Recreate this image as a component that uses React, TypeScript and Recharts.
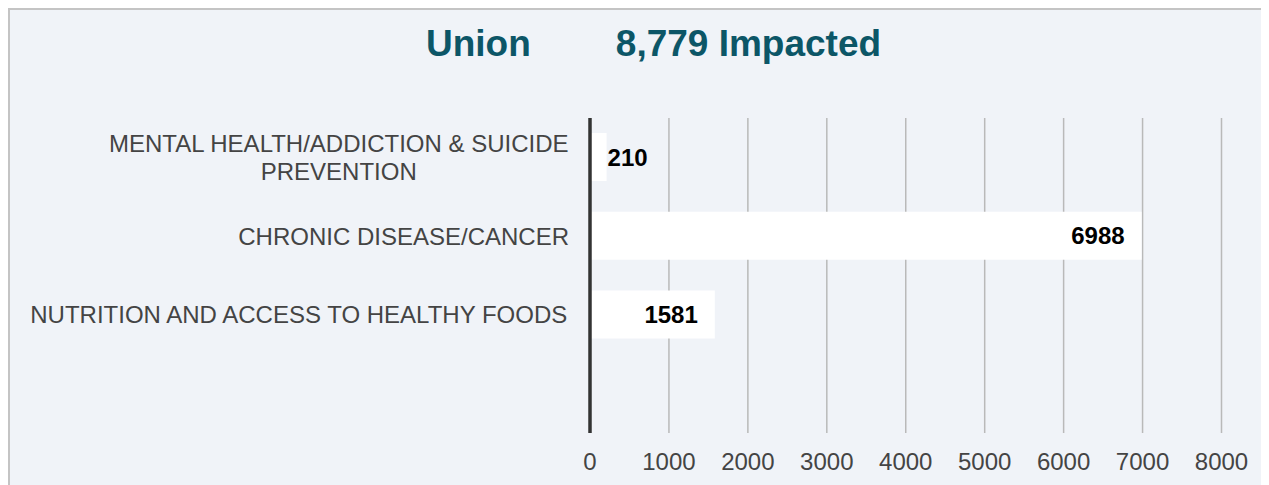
import { Bar, BarChart, CartesianGrid, LabelList, XAxis, YAxis } from 'recharts';

const categories = [
  'MENTAL HEALTH/ADDICTION & SUICIDE PREVENTION',
  'CHRONIC DISEASE/CANCER',
  'NUTRITION AND ACCESS TO HEALTHY FOODS',
  '',
];
const impacted = [210, 6988, 1581, null];
const xTicks = [0, 1000, 2000, 3000, 4000, 5000, 6000, 7000, 8000];
const countyName = 'Union';

const FONT = '"Liberation Sans", Arial, sans-serif';
const TEXT = '#444444';
const TEAL = '#0c5667';

const data = categories.map((name, i) => ({ name, value: impacted[i] }));
const total = impacted.reduce<number>((sum, v) => sum + (v ?? 0), 0);

let ctx: CanvasRenderingContext2D | null = null;
function measure(text: string, font: string) {
  if (!ctx) ctx = document.createElement('canvas').getContext('2d');
  if (!ctx) return text.length * 12;
  ctx.font = font;
  return ctx.measureText(text).width;
}

function wrap(text: string, maxWidth: number, font: string) {
  const words = text.split(' ');
  const lines: string[] = [];
  let cur = '';
  for (const w of words) {
    const next = cur ? cur + ' ' + w : w;
    if (cur && measure(next, font) > maxWidth) {
      lines.push(cur);
      cur = w;
    } else {
      cur = next;
    }
  }
  if (cur) lines.push(cur);
  return lines;
}

function CategoryTick(props: any) {
  const { x, y, payload } = props;
  const font = `24px "Liberation Sans"`;
  const lines = wrap(String(payload.value ?? ''), 550, font);
  if (!lines.length) return null;
  const widest = Math.max(...lines.map((l) => measure(l, font)));
  const cx = x - widest / 2;
  return (
    <g>
      {lines.map((line, i) => (
        <text
          key={i}
          x={cx}
          y={y + (i - (lines.length - 1) / 2) * 28}
          textAnchor="middle"
          dominantBaseline="central"
          fill={TEXT}
          fontSize={24}
          fontFamily={FONT}
        >
          {line}
        </text>
      ))}
    </g>
  );
}

function ValueLabel(props: any) {
  const { x, y, width, height, value } = props;
  if (value == null) return null;
  const label = String(value);
  const tw = measure(label, `bold 24px "Liberation Sans"`);
  const inside = width > tw + 34;
  return (
    <text
      x={inside ? x + width - 17 : x + width + 1}
      y={y + height / 2}
      textAnchor={inside ? 'end' : 'start'}
      dominantBaseline="central"
      fill="#000"
      fontSize={24}
      fontWeight="bold"
      fontFamily={FONT}
    >
      {label}
    </text>
  );
}

export default function App() {
  return (
    <div
      style={{
        position: 'relative',
        width: 1259,
        height: 475,
        borderTop: '2px solid #c4c4c4',
        borderLeft: '2px solid #c4c4c4',
        background: '#f0f3f8',
        fontFamily: FONT,
        overflow: 'hidden',
      }}
    >
      <div
        style={{
          position: 'absolute',
          left: 416,
          top: 15,
          display: 'flex',
          gap: 85,
          fontSize: 37,
          lineHeight: '38px',
          fontWeight: 'bold',
          color: TEAL,
          whiteSpace: 'nowrap',
        }}
      >
        <span>{countyName}</span>
        <span>{total.toLocaleString('en-US')} Impacted</span>
      </div>
      <BarChart
        width={1259}
        height={475}
        data={data}
        layout="vertical"
        margin={{ top: 108, right: 47.5, bottom: 12, left: 0 }}
        barSize={48}
      >
        <CartesianGrid horizontal={false} stroke="#b9b9b9" strokeWidth={1.5} />
        <XAxis
          type="number"
          domain={[0, 8000]}
          ticks={xTicks}
          axisLine={false}
          tickLine={false}
          tickSize={0}
          tickMargin={20}
          height={40}
          tick={{ fill: TEXT, fontSize: 24, fontFamily: FONT }}
        />
        <YAxis
          type="category"
          dataKey="name"
          width={580}
          tickLine={false}
          tickSize={0}
          tickMargin={21}
          axisLine={{ stroke: '#333333', strokeWidth: 3.5 }}
          tick={<CategoryTick />}
          interval={0}
        />
        <Bar dataKey="value" fill="#ffffff" isAnimationActive={false}>
          <LabelList dataKey="value" content={<ValueLabel />} />
        </Bar>
      </BarChart>
    </div>
  );
}
